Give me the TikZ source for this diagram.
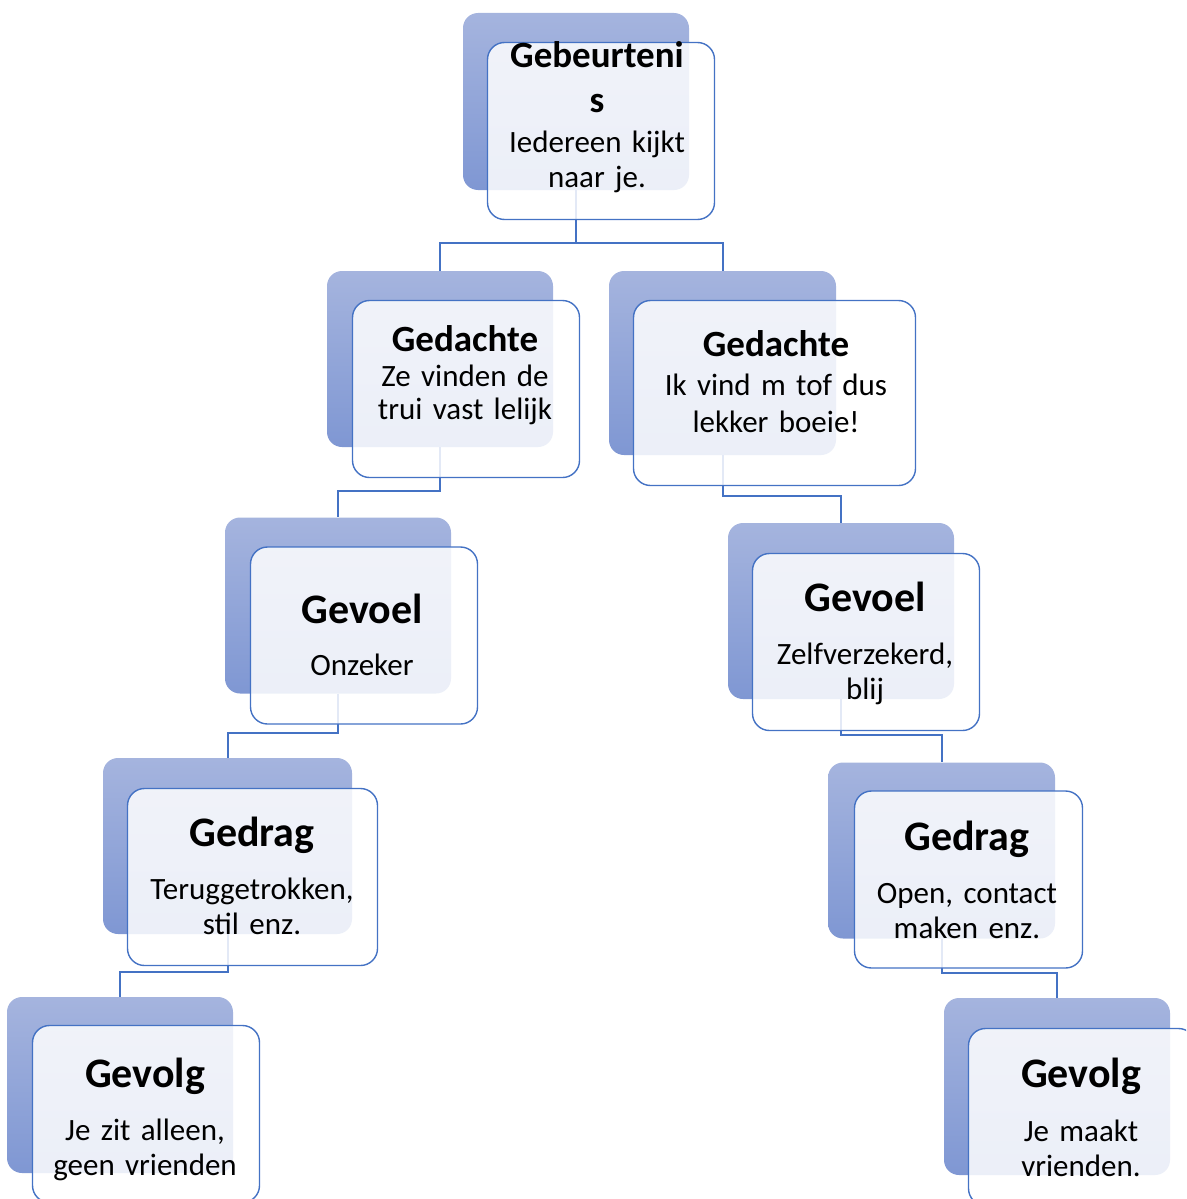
\documentclass[tikz,border=0pt]{standalone}
\usepackage{fontspec}
\setmainfont{Carlito}
\usetikzlibrary{positioning,calc}
\definecolor{kader}{HTML}{4472C4}
\definecolor{achtertop}{HTML}{A5B4DE}
\definecolor{achterbodem}{HTML}{7F97D3}

\begin{document}
\begin{tikzpicture}[
  x=1pt, y=-1pt,
  achter/.style={rounded corners=15pt, top color=achtertop, bottom color=achterbodem, minimum width=226pt, minimum height=176pt, inner sep=0pt},
  voor/.style={draw=kader, line width=1.4pt, rounded corners=17pt, fill=white, fill opacity=0.85, minimum width=227pt, minimum height=177pt, inner sep=0pt, anchor=north west},
  kop/.style={anchor=base, inner sep=0pt, text width=300pt, align=center, font=\fontsize{37}{45}\selectfont\bfseries},
  grotekop/.style={kop, font=\fontsize{42}{50}\selectfont\bfseries},
  tekst/.style={anchor=base, inner sep=0pt, text width=300pt, align=center, font=\fontsize{31}{35}\selectfont},
  lijn/.style={draw=kader, line width=2pt}
]
\useasboundingbox (0,0) rectangle (1186,1199);
\clip (0,0) rectangle (1186,1199);
% Achterste vlakken
\node[achter, minimum height=177pt] (gebB) at (576,101.5) {};
\node[achter] (gdLB) at (440,359) {};
\node[achter, minimum width=227pt, minimum height=184pt] (gdRB) at (722.5,363) {};
\node[achter] (gvLB) at (338,605.5) {};
\node[achter] (gvRB) at (841,611) {};
\node[achter, minimum width=249pt] (grLB) at (227.5,846) {};
\node[achter, minimum width=227pt] (grRB) at (941.5,850.5) {};
\node[achter] (gfLB) at (120,1085) {};
\node[achter, minimum height=177pt] (gfRB) at (1057,1086.5) {};
% Verbindingen
\draw[lijn] (gebB.south) -- ++(0,53) -| (gdLB.north);
\draw[lijn] (gebB.south) -- ++(0,53) -| (gdRB.north);
\draw[lijn] (gdLB.south) -- ++(0,44) -| (gvLB.north);
\draw[lijn] (gdRB.south) -- ++(0,41) -| (gvRB.north);
\draw[lijn] (gvLB.south) -- ++(0,39) -| (grLB.north);
\draw[lijn] (gvRB.south) -- ++(0,36) -| (grRB.north);
\draw[lijn] (grLB.south) -- ++(0,38) -| (gfLB.north);
\draw[lijn] (grRB.south) -- ++(0,34) -| (gfRB.north);
% Voorste vlakken
\node[voor, xshift=24pt, yshift=-29pt] (geb) at (gebB.north west) {};
\node[voor, xshift=25pt, yshift=-29pt] (gdL) at (gdLB.north west) {};
\node[voor, xshift=24pt, yshift=-29pt, minimum width=282pt, minimum height=185pt] (gdR) at (gdRB.north west) {};
\node[voor, xshift=25pt, yshift=-29pt] (gvL) at (gvLB.north west) {};
\node[voor, xshift=24pt, yshift=-30pt] (gvR) at (gvRB.north west) {};
\node[voor, xshift=24pt, yshift=-30pt, minimum width=250pt] (grL) at (grLB.north west) {};
\node[voor, xshift=26pt, yshift=-28pt, minimum width=228pt] (grR) at (grRB.north west) {};
\node[voor, xshift=25pt, yshift=-28pt] (gfL) at (gfLB.north west) {};
\node[voor, xshift=24pt, yshift=-30pt] (gfR) at (gfRB.north west) {};
% Teksten
\node[kop] (gebT) at (597,67) {Gebeurteni\\s};
\node[tekst] (gebS) at (597,152) {Iedereen kijkt\\naar je.};
\node[kop] (gdLT) at (465,351) {Gedachte};
\node[tekst, font=\fontsize{31}{33}\selectfont] (gdLS) at (465,386) {Ze vinden de\\trui vast lelijk};
\node[kop] (gdRT) at (776,356) {Gedachte};
\node[tekst, font=\fontsize{31}{37}\selectfont] (gdRS) at (776,395) {Ik vind m tof dus\\lekker boeie!};
\node[grotekop] (gvLT) at (362,623) {Gevoel};
\node[tekst] (gvLS) at (362,675) {Onzeker};
\node[grotekop] (gvRT) at (865,611) {Gevoel};
\node[tekst] (gvRS) at (865,664) {Zelfverzekerd,\\blij};
\node[grotekop] (grLT) at (252,846) {Gedrag};
\node[tekst] (grLS) at (252,899) {Teruggetrokken,\\stil enz.};
\node[grotekop] (grRT) at (967,850) {Gedrag};
\node[tekst] (grRS) at (967,903) {Open, contact\\maken enz.};
\node[grotekop] (gfLT) at (145,1087) {Gevolg};
\node[tekst] (gfLS) at (145,1140) {Je zit alleen,\\geen vrienden};
\node[grotekop] (gfRT) at (1081,1087) {Gevolg};
\node[tekst] (gfRS) at (1081,1141) {Je maakt\\vrienden.};
\end{tikzpicture}
\end{document}
